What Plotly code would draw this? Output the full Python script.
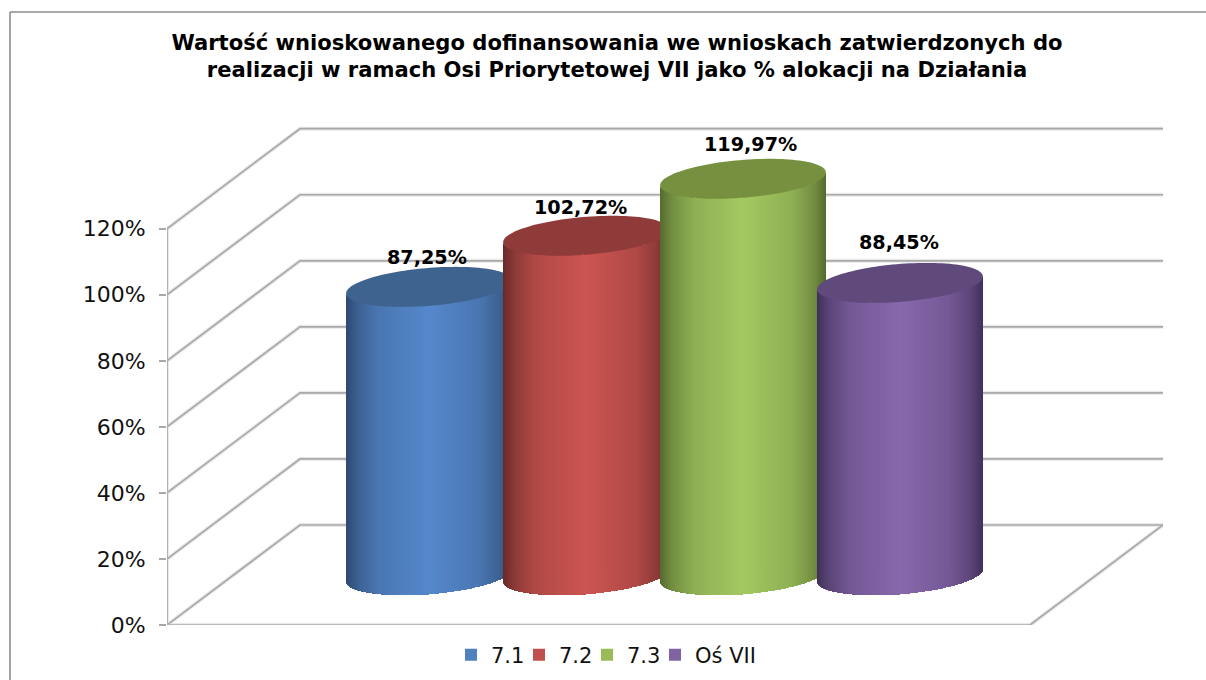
import numpy as np
import plotly.graph_objects as go

# ---------- data ----------
series_names = ["7.1", "7.2", "7.3", "Oś VII"]
values = [87.25, 102.72, 119.97, 88.45]
value_labels = ["87,25%", "102,72%", "119,97%", "88,45%"]
tick_values = [0, 20, 40, 60, 80, 100, 120]
tick_labels = ["0%", "20%", "40%", "60%", "80%", "100%", "120%"]
title_text = ("Wartość wnioskowanego dofinansowania we wnioskach zatwierdzonych do<br>"
              "realizacji w ramach Osi Priorytetowej VII jako % alokacji na Działania")

# ---------- style ----------
center_colors = ["#5588CC", "#CC5552", "#A4C961", "#8868AC"]
edge_colors = ["#2F4A70", "#692B2A", "#566B30", "#41315A"]
top_colors = ["#3F638F", "#8F3B39", "#76903F", "#604A7B"]
legend_colors = ["#4F81BD", "#C0504D", "#9BBB59", "#8064A2"]
label_xshift = [-2.5, -6, 7.5, -1.5]
label_yshift = [29, 28, 34, 40]
legend_text_widths = [23, 23, 23, 70]

# plot-box geometry (pixels of the page)
L, R, T, B = 167, 1163, 100, 625
W_PAGE, H_PAGE = 1206, 680
PX_PER_CAT = 157.0
PX_PER_PCT = 3.3025
CENTER_PX = 664.5  # page x of the middle of the four cylinders


def cat_from_px(px):
    return (px - CENTER_PX) / PX_PER_CAT + 1.5


x_left = cat_from_px(L)
x_front_right = cat_from_px(1030)
x_back_right = cat_from_px(R)
depth_x = 133 / PX_PER_CAT      # oblique depth vector, in axis units
depth_y = 100 / PX_PER_PCT
GRID = "#A9A9A9"
HALO = "#E9E9E9"

fig = go.Figure()


def add_line(xs, ys, color=GRID, width=1.6):
    fig.add_trace(go.Scatter(x=xs, y=ys, mode="lines", cliponaxis=False,
                             line=dict(color=color, width=width),
                             hoverinfo="skip", showlegend=False))


# walls and floor
for pass_color, pass_width in ((HALO, 4), (GRID, 1.7)):
    for v in tick_values:
        add_line([x_left, x_left + depth_x, x_back_right],
                 [v, v + depth_y, v + depth_y], pass_color, pass_width)
    add_line([x_left, x_left], [0, max(tick_values)], pass_color, pass_width)
    add_line([x_left, x_front_right, x_back_right],
             [0, 0, depth_y], pass_color, pass_width)

# legend swatches live on the real data points, hidden behind the cylinder tops
for i, name in enumerate(series_names):
    fig.add_trace(go.Scatter(x=[i], y=[values[i] + depth_y / 2], mode="markers", name=name,
                             marker=dict(symbol="square", size=12, color=legend_colors[i]),
                             legendwidth=legend_text_widths[i],
                             hoverinfo="skip", showlegend=True))


def hex_rgb(h):
    return np.array([int(h[k:k + 2], 16) for k in (1, 3, 5)], dtype=float)


def shade(center, edge, s):
    """s = 0 in the middle of the cylinder, 1 at its silhouette."""
    c, e = hex_rgb(center), hex_rgb(edge)
    f = np.interp(s, [0, 0.6, 0.85, 1], [0, 0.28, 0.62, 1])
    r = c + (e - c) * f
    return "rgb(%d,%d,%d)" % tuple(np.round(r))


# cylinders, as an oblique projection of a circle of the floor's depth
a = 0.5
dx = 0.2 * depth_x
dy = 0.2 * depth_y
W = np.hypot(a, dx)
t0 = np.arctan2(dx, a)
base = depth_y / 2
N = 90
ts = np.linspace(t0 - np.pi, t0, N + 1)
for i, v in enumerate(values):
    X = i + a * np.cos(ts) + dx * np.sin(ts)
    Y = dy * np.sin(ts)
    # painter's order: each band covers everything to its right, so no seams show
    for j in range(N):
        col = shade(center_colors[i], edge_colors[i],
                    abs((X[j] + X[j + 1]) / 2 - i) / W)
        fig.add_trace(go.Scatter(
            x=np.concatenate([X[j:], X[j:][::-1]]),
            y=np.concatenate([base + Y[j:], base + v + Y[j:][::-1]]),
            mode="none", fill="toself", fillcolor=col, cliponaxis=False,
            hoverinfo="skip", showlegend=False))
    tt = np.linspace(0, 2 * np.pi, 121)
    fig.add_trace(go.Scatter(
        x=i + a * np.cos(tt) + dx * np.sin(tt),
        y=base + v + dy * np.sin(tt),
        mode="none", fill="toself", fillcolor=top_colors[i], cliponaxis=False,
        hoverinfo="skip", showlegend=False))
    fig.add_annotation(x=i, y=base + v, text="<b>%s</b>" % value_labels[i], showarrow=False,
                       xshift=label_xshift[i], yshift=label_yshift[i],
                       font=dict(family="DejaVu Sans", size=19.2, color="#000000"),
                       xanchor="center", yanchor="middle")


def px_x(px):
    return (px - L) / (R - L)


def px_y(py):
    return (B - py) / (B - T)


# outer chart frame
FRAME = "#8C8C8C"
fig.add_shape(type="line", xref="paper", yref="paper", x0=px_x(10), x1=px_x(10),
              y0=px_y(680), y1=px_y(12), line=dict(color=FRAME, width=1.6))
fig.add_shape(type="line", xref="paper", yref="paper", x0=px_x(10), x1=px_x(1206),
              y0=px_y(12), y1=px_y(12), line=dict(color=FRAME, width=1.6))

fig.update_layout(
    width=W_PAGE, height=H_PAGE,
    margin=dict(l=L, r=W_PAGE - R, t=T, b=H_PAGE - B, pad=0, autoexpand=False),
    paper_bgcolor="white", plot_bgcolor="white",
    title=dict(text="<b>%s</b>" % title_text, x=617 / W_PAGE, xanchor="center",
               y=1 - 50 / H_PAGE, yanchor="middle", yref="container",
               font=dict(family="DejaVu Sans", size=21.1, color="#000000")),
    xaxis=dict(visible=False, range=[x_left, x_back_right], fixedrange=True),
    yaxis=dict(range=[0, (B - T) / PX_PER_PCT], tickvals=tick_values, ticktext=tick_labels,
               ticks="outside", ticklen=7, tickwidth=1.6, tickcolor=GRID, showgrid=False,
               zeroline=False, showline=False, ticklabelstandoff=9, fixedrange=True,
               tickfont=dict(family="DejaVu Sans", size=22, color="#111111")),
    legend=dict(orientation="h", x=px_x(451), xanchor="left", y=px_y(655), yanchor="middle",
                font=dict(family="DejaVu Sans", size=21, color="#111111"),
                bgcolor="rgba(0,0,0,0)", borderwidth=0),
    font=dict(family="DejaVu Sans"),
    hovermode=False,
)

fig.write_html("out.html", config={"displayModeBar": False},
               post_script="document.body.style.margin='0';")
